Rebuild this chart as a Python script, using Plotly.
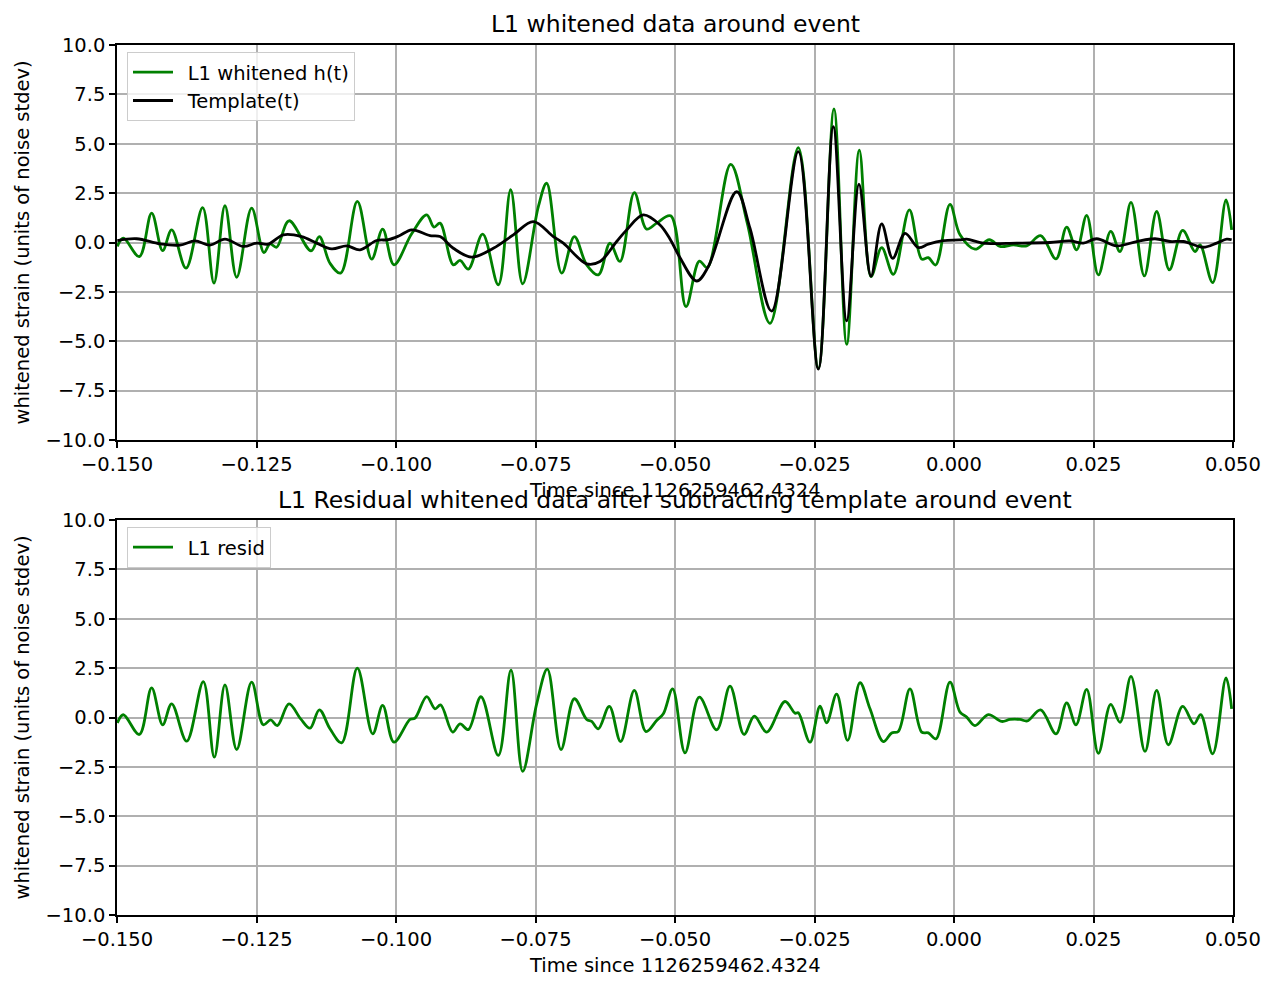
import plotly.graph_objects as go

# ---- data (seconds since 1126259462.4324, whitened strain) ----
t_data = [-0.14994, -0.14887, -0.14600, -0.14379, -0.14182, -0.14020, -0.13763, -0.13465, -0.13262,
          -0.13065, -0.12855, -0.12587, -0.12366, -0.12258, -0.12139, -0.11918, -0.11523, -0.11374,
          -0.11183, -0.10992, -0.10693, -0.10436, -0.10239, -0.10036, -0.09719, -0.09450, -0.09319,
          -0.09211, -0.08973, -0.08853, -0.08704, -0.08447, -0.08166, -0.07945, -0.07730, -0.07449,
          -0.07300, -0.07031, -0.06804, -0.06583, -0.06374, -0.06165, -0.05986, -0.05729, -0.05508,
          -0.05329, -0.05078, -0.04803, -0.04564, -0.04421, -0.04002, -0.03704, -0.03297, -0.02790,
          -0.02431, -0.02151, -0.01923, -0.01697, -0.01487, -0.01296, -0.01087, -0.00800, -0.00579,
          -0.00460, -0.00329, -0.00072, 0.00108, 0.00376, 0.00633, 0.00824, 0.01063, 0.01302,
          0.01553, 0.01828, 0.02019, 0.02198, 0.02378, 0.02587, 0.02808, 0.02975, 0.03172, 0.03411,
          0.03632, 0.03859, 0.04098, 0.04319, 0.04409, 0.04636, 0.04875, 0.04976]
h_data = [-0.20, 0.22, -0.71, 1.49, -0.41, 0.64, -1.30, 1.77, -2.06,
          1.86, -1.76, 1.74, -0.51, -0.07, -0.24, 1.10, -0.42, 0.30,
          -1.05, -1.55, 2.08, -0.84, 0.68, -1.13, 0.44, 1.40, 0.78,
          0.98, -1.13, -0.91, -1.35, 0.42, -2.14, 2.67, -2.09, 1.82,
          3.00, -1.55, 0.30, -1.13, -1.64, -0.03, -0.96, 2.53, 0.68,
          0.98, 1.35, -3.25, -0.94, -1.27, 3.96, 0.97, -4.09, 4.80,
          -6.37, 6.76, -5.16, 4.68, -1.73, -0.26, -1.61, 1.65, -0.84,
          -0.77, -1.14, 1.93, 0.39, -0.34, 0.14, -0.20, -0.12, -0.17,
          0.35, -0.83, 0.78, -0.37, 1.37, -1.64, 0.56, -0.46, 2.03, -1.69,
          1.57, -1.38, 0.61, -0.46, -0.12, -2.03, 2.16, 0.64]

t_tmpl = [-0.14994, -0.14648, -0.14229, -0.13871, -0.13602, -0.13333, -0.13065, -0.12736, -0.12497,
          -0.12288, -0.12019, -0.11691, -0.11422, -0.11153, -0.10884, -0.10645, -0.10346, -0.10137,
          -0.09940, -0.09719, -0.09391, -0.09211, -0.08973, -0.08644, -0.08256, -0.07897, -0.07539,
          -0.07180, -0.07001, -0.06583, -0.06344, -0.06045, -0.05866, -0.05568, -0.05269, -0.05090,
          -0.04922, -0.04612, -0.04403, -0.03895, -0.03656, -0.03268, -0.02790, -0.02431, -0.02163,
          -0.01923, -0.01703, -0.01487, -0.01296, -0.01099, -0.00878, -0.00639, -0.00460, -0.00191,
          0.00096, 0.00227, 0.00526, 0.01123, 0.01720, 0.02079, 0.02318, 0.02557, 0.02915, 0.03273,
          0.03602, 0.03871, 0.04110, 0.04468, 0.04708, 0.04887, 0.04976]
template = [0.10, 0.19, -0.07, -0.13, 0.08, -0.13, 0.17, -0.20, -0.03,
            -0.08, 0.39, 0.30, -0.03, -0.32, -0.17, -0.37, 0.10, 0.14,
            0.34, 0.64, 0.35, 0.30, -0.29, -0.74, -0.29, 0.39, 1.06,
            0.30, -0.03, -1.08, -0.96, 0.05, 0.64, 1.40, 0.89, 0.18,
            -0.71, -1.95, -1.22, 2.57, 0.72, -3.47, 4.60, -6.41, 5.86,
            -3.97, 2.95, -1.70, 0.94, -0.80, 0.46, -0.26, -0.08, 0.09,
            0.13, 0.17, -0.03, -0.03, 0.00, 0.08, -0.03, 0.19, -0.17, 0.05,
            0.19, 0.05, 0.05, -0.24, -0.03, 0.17, 0.14]

t_resid = [-0.14994, -0.14887, -0.14600, -0.14379, -0.14182, -0.14020, -0.13751, -0.13453, -0.13256,
           -0.13065, -0.12855, -0.12587, -0.12378, -0.12246, -0.12127, -0.11918, -0.11708, -0.11541,
           -0.11374, -0.11183, -0.10974, -0.10693, -0.10418, -0.10239, -0.10036, -0.09749, -0.09659,
           -0.09450, -0.09301, -0.09200, -0.08984, -0.08853, -0.08704, -0.08477, -0.08166, -0.07939,
           -0.07730, -0.07479, -0.07288, -0.07043, -0.06804, -0.06583, -0.06493, -0.06374, -0.06177,
           -0.05974, -0.05729, -0.05520, -0.05329, -0.05209, -0.05042, -0.04821, -0.04564, -0.04253,
           -0.04014, -0.03763, -0.03578, -0.03357, -0.03029, -0.02849, -0.02790, -0.02581, -0.02401,
           -0.02282, -0.02103, -0.01906, -0.01685, -0.01505, -0.01266, -0.01117, -0.00998, -0.00789,
           -0.00579, -0.00460, -0.00323, -0.00072, 0.00108, 0.00227, 0.00376, 0.00615, 0.00854,
           0.01004, 0.01183, 0.01314, 0.01553, 0.01828, 0.02019, 0.02186, 0.02378, 0.02587, 0.02808,
           0.02975, 0.03172, 0.03423, 0.03632, 0.03841, 0.04098, 0.04301, 0.04421, 0.04636, 0.04875,
           0.04976]
resid = [-0.27, 0.14, -0.86, 1.50, -0.37, 0.69, -1.20, 1.82, -2.01,
         1.65, -1.62, 1.79, -0.37, -0.12, -0.41, 0.69, -0.07, -0.54,
         0.39, -0.57, -1.28, 2.50, -0.83, 0.61, -1.25, -0.10, -0.03,
         1.06, 0.44, 0.64, -0.74, -0.32, -0.61, 1.05, -1.92, 2.40,
         -2.73, 0.69, 2.45, -1.62, 0.95, -0.10, -0.20, -0.57, 0.56,
         -1.22, 1.37, -0.71, -0.15, 0.19, 1.45, -1.79, 1.03, -0.62,
         1.59, -0.86, 0.07, -0.74, 0.81, 0.22, 0.24, -1.25, 0.57,
         -0.27, 1.18, -1.16, 1.76, 0.44, -1.22, -0.78, -0.71, 1.45,
         -0.74, -0.78, -1.08, 1.79, 0.27, 0.02, -0.41, 0.15, -0.20,
         -0.10, -0.10, -0.17, 0.39, -0.83, 0.74, -0.37, 1.42, -1.81, 0.66,
         -0.24, 2.08, -1.72, 1.37, -1.38, 0.56, -0.32, 0.15, -1.84, 2.01,
         0.44]

x_ticks = [-0.150, -0.125, -0.100, -0.075, -0.050, -0.025, 0.000, 0.025, 0.050]
y_ticks = [-10.0, -7.5, -5.0, -2.5, 0.0, 2.5, 5.0, 7.5, 10.0]

top_title = "L1 whitened data around event"
bottom_title = "L1 Residual whitened data after subtracting template around event"
x_label = "Time since 1126259462.4324"
y_label = "whitened strain (units of noise stdev)"

GREEN = "#008000"
FONT = "DejaVu Sans"
TICK_SIZE = 19.5
TITLE_SIZE = 23.5
GAP = "\u2002"  # spacing between legend line sample and its label

fig = go.Figure()
fig.add_trace(go.Scatter(x=t_data, y=h_data, mode="lines", name=GAP + "L1 whitened h(t)",
                         line=dict(color=GREEN, width=2.8, shape="spline"),
                         xaxis="x", yaxis="y", legend="legend"))
fig.add_trace(go.Scatter(x=t_tmpl, y=template, mode="lines", name=GAP + "Template(t)",
                         line=dict(color="black", width=2.8, shape="spline"),
                         xaxis="x", yaxis="y", legend="legend"))
fig.add_trace(go.Scatter(x=t_resid, y=resid, mode="lines", name=GAP + "L1 resid",
                         line=dict(color=GREEN, width=2.8, shape="spline"),
                         xaxis="x2", yaxis="y2", legend="legend2"))

xcommon = dict(range=[-0.15, 0.05], tickvals=x_ticks, tickformat=".3f", automargin=False,
               showgrid=True, gridcolor="#b0b0b0", gridwidth=1.6, zeroline=False,
               showline=True, linecolor="black", linewidth=1.6, mirror=True,
               ticks="outside", ticklen=6, tickwidth=1.6, tickcolor="black",
               tickfont=dict(family=FONT, size=TICK_SIZE, color="black"))
ycommon = dict(range=[-10, 10], tickvals=y_ticks, tickformat=".1f", automargin=False,
               showgrid=True, gridcolor="#b0b0b0", gridwidth=1.6, zeroline=False,
               showline=True, linecolor="black", linewidth=1.6, mirror=True,
               ticks="outside", ticklen=6, tickwidth=1.6, tickcolor="black",
               tickfont=dict(family=FONT, size=TICK_SIZE, color="black"))

top_dom = [0.54598, 1.0]
bot_dom = [0.0, 0.45402]

legend_common = dict(bgcolor="rgba(255,255,255,0.8)", bordercolor="#cccccc", borderwidth=1,
                     font=dict(family=FONT, size=TICK_SIZE, color="black"),
                     xanchor="left", yanchor="top", tracegroupgap=0, itemwidth=40)

ann = []
def text(s, x, y, size, angle=0):
    ann.append(dict(text=s, x=x, y=y, xref="paper", yref="paper", showarrow=False,
                    xanchor="center", yanchor="middle", textangle=angle,
                    font=dict(family=FONT, size=size, color="black")))

text(top_title, 0.5, 1.0241, TITLE_SIZE)
text(x_label, 0.5, 0.4885, TICK_SIZE)
text(bottom_title, 0.5, 0.477, TITLE_SIZE)
text(x_label, 0.5, -0.0575, TICK_SIZE)
text(y_label, -0.0851, 0.773, TICK_SIZE, -90)
text(y_label, -0.0851, 0.227, TICK_SIZE, -90)

# the page body adds an 8px offset; size the figure so the axes land where the reference has them
fig.update_layout(
    width=1259, height=973,
    margin=dict(l=109, r=34, t=37, b=66, autoexpand=False),
    plot_bgcolor="white", paper_bgcolor="white",
    font=dict(family=FONT, size=TICK_SIZE, color="black"),
    xaxis=dict(xcommon, domain=[0, 1], anchor="y"),
    yaxis=dict(ycommon, domain=top_dom, anchor="x"),
    xaxis2=dict(xcommon, domain=[0, 1], anchor="y2"),
    yaxis2=dict(ycommon, domain=bot_dom, anchor="x2"),
    legend=dict(legend_common, x=0.00896, y=0.99196),
    legend2=dict(legend_common, x=0.00896, y=0.44598),
    annotations=ann,
    showlegend=True,
)

fig.write_html("out.html")
